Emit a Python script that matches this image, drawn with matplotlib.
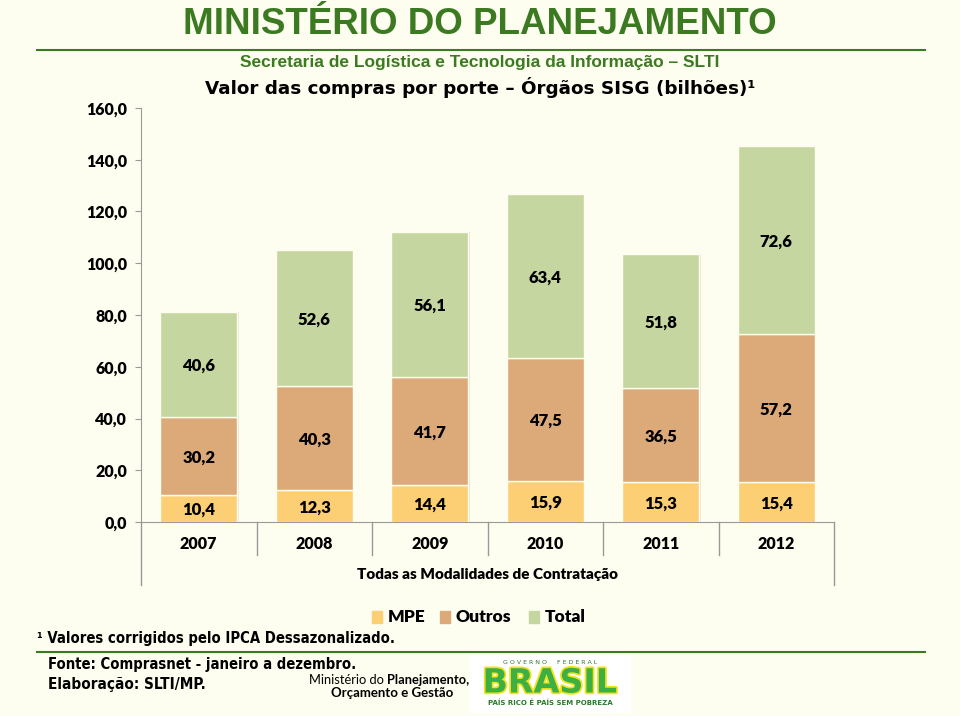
import numpy as np
import matplotlib.pyplot as plt
import matplotlib.patheffects as pe

# Dados (bilhões de R$)
anos = ["2007", "2008", "2009", "2010", "2011", "2012"]
mpe = [10.4, 12.3, 14.4, 15.9, 15.3, 15.4]
outros = [30.2, 40.3, 41.7, 47.5, 36.5, 57.2]
total = [40.6, 52.6, 56.1, 63.4, 51.8, 72.6]
yticks = [0, 20, 40, 60, 80, 100, 120, 140, 160]

bg = "#FEFEF0"
cor_mpe = "#FDCF74"
cor_outros = "#DCA979"
cor_total = "#C5D6A0"
verde = "#3C7A22"
label_font = "Lato"
peso = "heavy"


def fmt(v):
    return f"{v:.1f}".replace(".", ",")


fig = plt.figure(figsize=(9.6, 7.16), dpi=100)
fig.set_facecolor(bg)

ax = fig.add_axes([141 / 960, 1 - 522 / 716, (834 - 141) / 960, (522 - 108) / 716])
ax.set_facecolor(bg)

x = np.arange(len(anos)) + 0.5
w = 0.67
series = [(mpe, cor_mpe), (outros, cor_outros), (total, cor_total)]
bottom = np.zeros(len(anos))
for vals, cor in series:
    vals = np.array(vals)
    # sombra leve à direita
    ax.bar(x + 0.012, vals, w, bottom=bottom, color="#E6E6D6", zorder=1)
    ax.bar(x, vals, w, bottom=bottom, color=cor, edgecolor=bg, linewidth=1.0, zorder=2)
    for xi, b, v in zip(x, bottom, vals):
        ax.text(xi, b + v / 2 - 0.6, fmt(v), ha="center", va="center", fontsize=12,
                fontweight=peso, family=label_font, zorder=3)
    bottom = bottom + vals

ax.set_xlim(0, 6)
ax.set_ylim(0, 160)
ax.set_yticks(yticks)
ax.set_yticklabels([fmt(v) for v in yticks], fontsize=11.5, fontweight=peso, family=label_font)
ax.tick_params(axis="y", length=4, color="#999999", pad=6)
ax.set_xticks([])
for s in ["top", "right"]:
    ax.spines[s].set_visible(False)
ax.spines["left"].set_color("#999999")
ax.spines["bottom"].set_color("#999999")
ax.spines["left"].set_bounds(0, 160)

# grade da tabela abaixo do eixo
trans = ax.get_xaxis_transform()
ax.plot([0, 0], [-0.152, 0], color="#999999", lw=1, transform=trans, clip_on=False)
ax.plot([6, 6], [-0.152, 0], color="#999999", lw=1, transform=trans, clip_on=False)
for b in range(1, 6):
    ax.plot([b, b], [-0.08, 0], color="#999999", lw=1, transform=trans, clip_on=False)
for xi, a in zip(x, anos):
    ax.text(xi, -0.053, a, ha="center", va="center", fontsize=11.5, fontweight=peso,
            family=label_font, transform=trans)
ax.text(3, -0.128, "Todas as Modalidades de Contratação", ha="center", va="center",
        fontsize=11, fontweight=peso, family=label_font, transform=trans)

# legenda
leg_y = 1 - 617 / 716
for lx, nome, cor in [(372, "MPE", cor_mpe), (440, "Outros", cor_outros), (529, "Total", cor_total)]:
    fig.patches.append(plt.Rectangle((lx / 960, leg_y - 0.008), 10 / 960, 0.017, color=cor,
                                     transform=fig.transFigure))
    fig.text((lx + 16) / 960, leg_y, nome, ha="left", va="center", fontsize=12.5,
             fontweight=peso, family=label_font)

# cabeçalho
fig.text(0.5, 1 - 24 / 716, "MINISTÉRIO DO PLANEJAMENTO", ha="center", va="center",
         fontsize=26.5, fontweight="bold", color=verde, family="Liberation Sans")
fig.add_artist(plt.Line2D([37 / 960, 925 / 960], [1 - 50 / 716] * 2, color=verde, lw=1.5))
fig.text(0.5, 1 - 63 / 716, "Secretaria de Logística e Tecnologia da Informação – SLTI",
         ha="center", va="center", fontsize=12.5, fontweight="bold", color=verde,
         family="Liberation Sans")
fig.text(0.5, 1 - 87 / 716, "Valor das compras por porte – Órgãos SISG (bilhões)¹",
         ha="center", va="center", fontsize=13.2, fontweight="bold", family="DejaVu Sans")

# rodapé
rodape = dict(ha="left", va="center", fontweight="bold", family="DejaVu Sans",
              fontstretch="condensed")
fig.text(37 / 960, 1 - 639 / 716, "¹ Valores corrigidos pelo IPCA Dessazonalizado.",
         fontsize=10.6, **rodape)
fig.add_artist(plt.Line2D([37 / 960, 925 / 960], [1 - 652 / 716] * 2, color=verde, lw=1.5))
fig.text(48 / 960, 1 - 664 / 716, "Fonte: Comprasnet - janeiro a dezembro.",
         fontsize=10.6, **rodape)
fig.text(48 / 960, 1 - 684 / 716, "Elaboração: SLTI/MP.", fontsize=11, **rodape)
fig.text(384 / 960, 1 - 680 / 716, "Ministério do", ha="right", va="center",
         fontsize=9.3, family=label_font)
fig.text(469 / 960, 1 - 680 / 716, "Planejamento,", ha="right", va="center",
         fontsize=9.3, fontweight="bold", family=label_font)
fig.text(392 / 960, 1 - 693 / 716, "Orçamento e Gestão", ha="center", va="center",
         fontsize=9.5, fontweight="bold", family=label_font)

# marca do governo (aproximação em texto)
fig.patches.append(plt.Rectangle((470 / 960, 1 - 712 / 716), 160 / 960, 57 / 716,
                                 color="white", transform=fig.transFigure))
fig.text(550 / 960, 1 - 663 / 716, "G O V E R N O     F E D E R A L", ha="center", va="center",
         fontsize=4.5, color="#2A7A2A", family="DejaVu Sans")
fig.text(550 / 960, 1 - 683 / 716, "BRASIL", ha="center", va="center", fontsize=24,
         fontweight="black", color="#3CB043", family="DejaVu Sans",
         path_effects=[pe.withStroke(linewidth=2.5, foreground="#F2E21A")])
fig.text(550 / 960, 1 - 703 / 716, "PAÍS RICO É PAÍS SEM POBREZA", ha="center", va="center",
         fontsize=5, fontweight="bold", color="#2A7A2A", family="DejaVu Sans")

fig.savefig("out.png", dpi=100, facecolor=bg)
